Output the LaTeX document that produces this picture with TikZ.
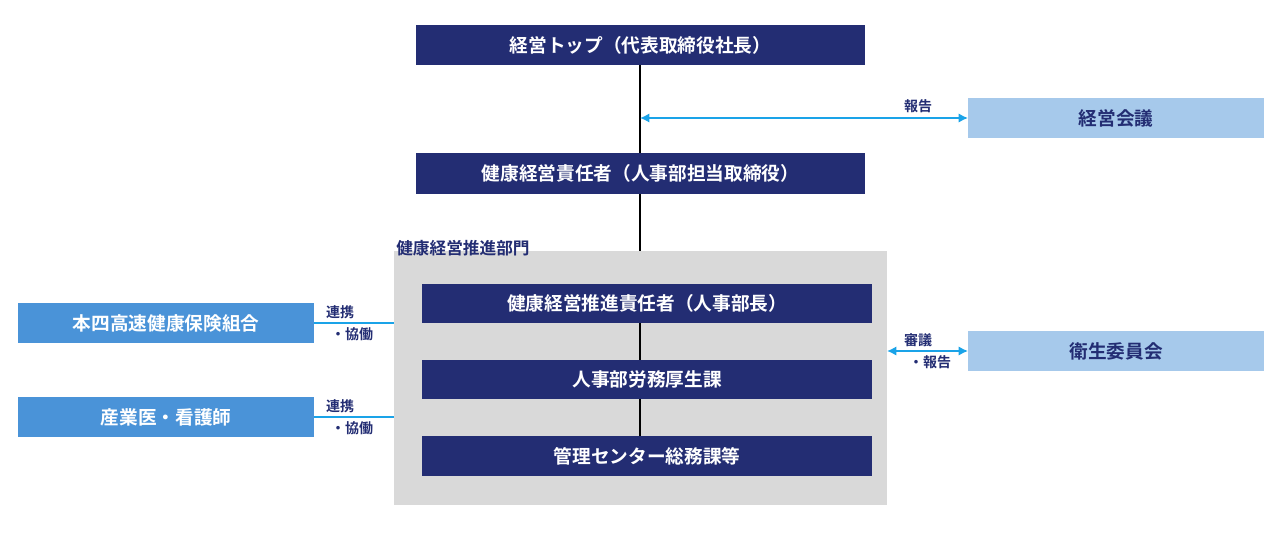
\documentclass[tikz,border=0pt]{standalone}
\usepackage{fontspec}
\setmainfont{Noto Sans CJK JP}[BoldFont={Noto Sans CJK JP Bold}]
\usetikzlibrary{arrows.meta}
\definecolor{navy}{HTML}{232D73}
\definecolor{lblue}{HTML}{A6C9EB}
\definecolor{mblue}{HTML}{4A93D8}
\definecolor{cyanl}{HTML}{1AA3E8}
\definecolor{gray1}{HTML}{D9D9D9}
\begin{document}
\begin{tikzpicture}[x=0.75pt,y=-0.75pt,
 dark/.style={fill=navy,text=white,font=\bfseries\fontsize{14}{16}\selectfont},
 light/.style={fill=lblue,text=navy,font=\bfseries\fontsize{14}{16}\selectfont},
 mid/.style={fill=mblue,text=white,font=\bfseries\fontsize{14}{16}\selectfont},
 lab/.style={text=navy,font=\bfseries\fontsize{10.5}{12}\selectfont,inner sep=0pt},
 conn/.style={cyanl,line width=1.2pt},
 dconn/.style={cyanl,line width=1.2pt,{Latex[length=7pt,width=7pt]}-{Latex[length=7pt,width=7pt]}},
 vl/.style={black,line width=1pt}]
\useasboundingbox (0,0) rectangle (1280,538);
\path[fill=gray1] (394,251) rectangle (887,505);
\coordinate (gtop) at (640,251);
\node[lab,anchor=west,font=\bfseries\fontsize{12.5}{14}\selectfont] (glab) at (396,248) {健康経営推進部門};
\path[dark] (416,25) rectangle (865,65) node[midway] (top) {経営トップ（代表取締役社長）};
\coordinate (topb) at (640,65);
\path[light] (968,98) rectangle (1264,138) node[midway] (kaigi) {経営会議};
\coordinate (kaigiw) at (968,118);
\path[dark] (416,153) rectangle (865,194) node[midway] (sekinin) {健康経営責任者（人事部担当取締役）};
\coordinate (sekt) at (640,153); \coordinate (sekb) at (640,194);
\path[dark] (422,284) rectangle (872,323) node[midway] (suishin) {健康経営推進責任者（人事部長）};
\coordinate (sut) at (640,284); \coordinate (sub) at (640,323);
\path[dark] (422,360) rectangle (872,399) node[midway] (jinji) {人事部労務厚生課};
\coordinate (jt) at (640,360); \coordinate (jb) at (640,399);
\path[dark] (422,436) rectangle (872,476) node[midway] (kanri) {管理センター総務課等};
\coordinate (kt) at (640,436);
\path[mid] (18,303) rectangle (314,343) node[midway] (kumiai) {本四高速健康保険組合};
\path[mid] (18,397) rectangle (314,437) node[midway] (sangyo) {産業医・看護師};
\path[light] (968,331) rectangle (1264,371) node[midway] (eisei) {衛生委員会};
\draw[vl] (topb) -- (sekt);
\draw[vl] (sekb) -- (gtop);
\draw[vl] (sub) -- (jt);
\draw[vl] (jb) -- (kt);
\coordinate (a1) at (640,118);
\draw[dconn] (a1) -- (kaigiw);
\node[lab] (hk) at (918,106) {報告};
\coordinate (k1) at (314,323); \coordinate (k2) at (394,323);
\draw[conn] (k1) -- (k2);
\node[lab] (r1) at (340,312) {連携};
\node[lab] (r2) at (352,334) {・協働};
\coordinate (s1) at (314,417); \coordinate (s2) at (394,417);
\draw[conn] (s1) -- (s2);
\node[lab] (r3) at (340,406) {連携};
\node[lab] (r4) at (352,428) {・協働};
\coordinate (e1) at (887,351); \coordinate (e2) at (968,351);
\draw[dconn] (e1) -- (e2);
\node[lab] (sg) at (918,340) {審議};
\node[lab] (hk2) at (930,362) {・報告};
\end{tikzpicture}
\end{document}
